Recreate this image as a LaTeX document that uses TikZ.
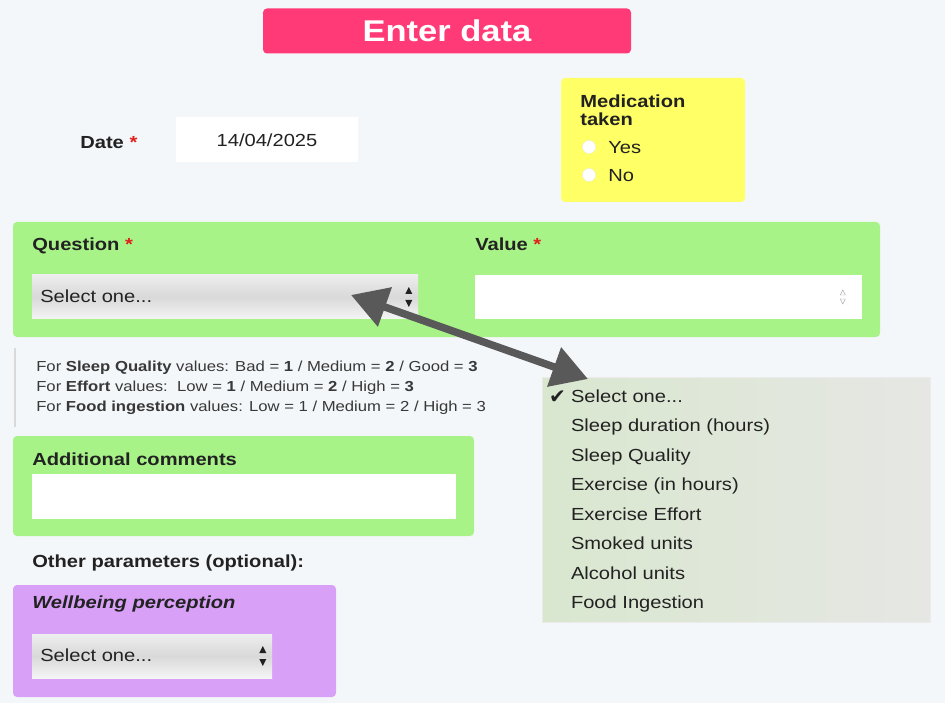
\documentclass[tikz,border=0pt]{standalone}
\usepackage{fontspec}
\setmainfont{Liberation Sans}[FakeStretch=1.15]
\newfontfamily\checkfont{DejaVu Sans}
\usetikzlibrary{positioning,arrows.meta}

\definecolor{pagebg}{HTML}{F4F7FA}
\definecolor{titlepink}{HTML}{FF3A77}
\definecolor{medyellow}{HTML}{FFFF66}
\definecolor{formgreen}{HTML}{A8F388}
\definecolor{wellpurple}{HTML}{D9A0F8}
\definecolor{arrowgrey}{HTML}{595959}
\definecolor{ink}{HTML}{222222}
\definecolor{reqred}{HTML}{E0201C}
\definecolor{listgreen}{HTML}{D9E7CF}
\definecolor{listgrey}{HTML}{E6E7E4}

\newcommand{\reqmark}{\textcolor{reqred}{*}}

\begin{document}
\begin{tikzpicture}[x=1pt, y=-1pt, semithick,
  panel/.style={fill=#1, rounded corners=4pt, inner sep=0pt},
  field/.style={fill=white, inner sep=0pt, font=\fontsize{17.5}{18}\selectfont, text=ink},
  chooser/.style={top color=black!7, bottom color=black!4, middle color=black!15, inner sep=0pt},
  lbl/.style={anchor=west, inner sep=0pt, text=ink, text height=12.6pt, text depth=0pt,
    font=\bfseries\fontsize{17.5}{18}\selectfont},
  plain/.style={lbl, font=\fontsize{17.5}{18}\selectfont},
  opt/.style={anchor=west, inner sep=0pt, outer sep=0pt, text=ink, minimum height=29.5pt,
    text height=12.6pt, text depth=0pt, font=\fontsize{17.5}{18}\selectfont},
  hint/.style={anchor=west, inner sep=0pt, text=ink!90, text height=10.4pt, text depth=0pt,
    font=\fontsize{14.5}{20}\selectfont},
  radio/.style={circle, fill=white, draw=black!8, thin, minimum size=13pt, inner sep=0pt}]

  \path[use as bounding box, fill=pagebg] (0,0) rectangle (945,703);

  % header and date
  \node[panel=titlepink, minimum width=368pt, minimum height=45pt, text=white,
    text height=21.6pt, text depth=0pt, font=\bfseries\fontsize{30}{36}\selectfont]
    (title) at (447,31) {Enter data};
  \node[lbl] (dateLabel) at (80,142) {Date \reqmark};
  \node[field, minimum width=182pt, minimum height=45pt, text height=12.6pt, text depth=0pt]
    (dateField) at (267,140) {14/04/2025};

  % medication
  \node[panel=medyellow, minimum width=184pt, minimum height=124pt] (medBox) at (653,140) {};
  \node[lbl] (medLabel) at (580,101) {Medication};
  \node[lbl] (medLabel2) at (580,119) {taken};
  \node[radio] (yesRadio) at (589,147) {};
  \node[radio] (noRadio) at (589,175) {};
  \node[plain] (yesLabel) at (608,147) {Yes};
  \node[plain] (noLabel) at (608,175) {No};

  % question / value
  \node[panel=formgreen, minimum width=867pt, minimum height=115pt] (qPanel) at (446.5,279.5) {};
  \node[lbl] (qLabel) at (32,244) {Question \reqmark};
  \node[lbl] (vLabel) at (475,244) {Value \reqmark};
  \node[chooser, minimum width=386pt, minimum height=44pt] (qSelect) at (225,297) {};
  \node[plain] (qSelectText) at (40,296) {Select one...};
  \fill[ink] ([shift={(-13,-3)}]qSelect.east) -- ++(7,0) -- ++(-3.5,-7) -- cycle;
  \fill[ink] ([shift={(-13,3)}]qSelect.east) -- ++(7,0) -- ++(-3.5,7) -- cycle;
  \node[field, minimum width=387pt, minimum height=44pt] (vField) at (668.5,297) {};
  \draw[black!35, thin] ([shift={(-22,-2)}]vField.east) -- ++(5,0) -- ++(-2.5,-5) -- cycle;
  \draw[black!35, thin] ([shift={(-22,2)}]vField.east) -- ++(5,0) -- ++(-2.5,5) -- cycle;

  % hints
  \draw[black!15, line width=2pt] (15,348) -- (15,427);
  \node[hint] (hint1) at (36,366) {For \textbf{Sleep Quality} values: Bad = \textbf{1} / Medium = \textbf{2} / Good = \textbf{3}};
  \node[hint] (hint2) at (36,386) {For \textbf{Effort} values:\ \ Low = \textbf{1} / Medium = \textbf{2} / High = \textbf{3}};
  \node[hint] (hint3) at (36,406) {For \textbf{Food ingestion} values: Low = 1 / Medium = 2 / High = 3};

  % comments
  \node[panel=formgreen, minimum width=461pt, minimum height=100pt] (cPanel) at (243.5,486) {};
  \node[lbl] (cLabel) at (32,459) {Additional comments};
  \node[field, minimum width=424pt, minimum height=45pt] (cField) at (244,496.5) {};

  % other parameters
  \node[lbl] (otherLabel) at (32,561) {Other parameters (optional):};
  \node[panel=wellpurple, minimum width=323pt, minimum height=112pt] (wPanel) at (174.5,641) {};
  \node[lbl, font=\bfseries\itshape\fontsize{17.5}{18}\selectfont] (wLabel) at (32,602) {Wellbeing perception};
  \node[chooser, minimum width=240pt, minimum height=44pt] (wSelect) at (152,656) {};
  \node[plain] (wSelectText) at (40,655) {Select one...};
  \fill[ink] ([shift={(-13,-3)}]wSelect.east) -- ++(7,0) -- ++(-3.5,-7) -- cycle;
  \fill[ink] ([shift={(-13,3)}]wSelect.east) -- ++(7,0) -- ++(-3.5,7) -- cycle;

  % open list
  \node[left color=listgreen, right color=listgrey, draw=black!8, thin,
    minimum width=388pt, minimum height=245pt, inner sep=0pt] (list) at (736,499.5) {};
  \node[opt, font=\checkfont\fontsize{20}{20}\selectfont] (tick) at (549,397) {✔};
  \node[opt] (o1) at (571,396) {Select one...};
  \node[opt] (o2) [below=0pt of o1.south west, anchor=north west] {Sleep duration (hours)};
  \node[opt] (o3) [below=0pt of o2.south west, anchor=north west] {Sleep Quality};
  \node[opt] (o4) [below=0pt of o3.south west, anchor=north west] {Exercise (in hours)};
  \node[opt] (o5) [below=0pt of o4.south west, anchor=north west] {Exercise Effort};
  \node[opt] (o6) [below=0pt of o5.south west, anchor=north west] {Smoked units};
  \node[opt] (o7) [below=0pt of o6.south west, anchor=north west] {Alcohol units};
  \node[opt] (o8) [below=0pt of o7.south west, anchor=north west] {Food Ingestion};

  % link between select and list
  \coordinate (qTip) at (351,295);
  \coordinate (listTip) at (588,379);
  \draw[arrowgrey, line width=7.5pt,
    {Triangle[length=36pt,width=40pt]}-{Triangle[length=36pt,width=40pt]}] (qTip) -- (listTip);

\end{tikzpicture}
\end{document}
